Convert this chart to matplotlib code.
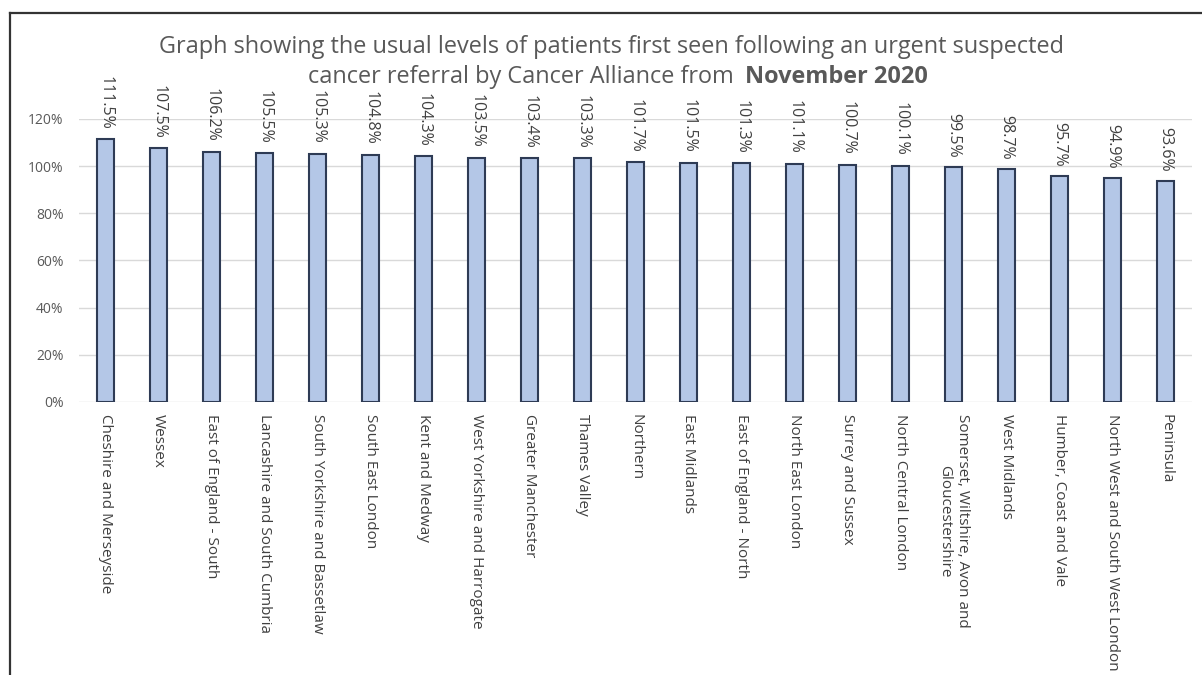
import matplotlib.pyplot as plt
from matplotlib.lines import Line2D
from matplotlib.ticker import FuncFormatter

# usual referral levels by Cancer Alliance, November 2020
alliances = [
    "Cheshire and Merseyside", "Wessex", "East of England - South",
    "Lancashire and South Cumbria", "South Yorkshire and Bassetlaw",
    "South East London", "Kent and Medway", "West Yorkshire and Harrogate",
    "Greater Manchester", "Thames Valley", "Northern", "East Midlands",
    "East of England - North", "North East London", "Surrey and Sussex",
    "North Central London", "Somerset, Wiltshire, Avon and\nGloucestershire",
    "West Midlands", "Humber, Coast and Vale",
    "North West and South West London", "Peninsula",
]
levels = [111.5, 107.5, 106.2, 105.5, 105.3, 104.8, 104.3, 103.5, 103.4,
          103.3, 101.7, 101.5, 101.3, 101.1, 100.7, 100.1, 99.5, 98.7,
          95.7, 94.9, 93.6]
y_ticks = [0, 20, 40, 60, 80, 100, 120]

plt.rcParams['font.family'] = ['Open Sans', 'DejaVu Sans']
grey = '#595959'

fig = plt.figure(figsize=(12.02, 6.75), dpi=100)
ax = fig.add_axes([79 / 1202, 1 - 402 / 675, 1113 / 1202, 283 / 675])

x = range(len(alliances))
ax.bar(x, levels, width=0.31, color='#B4C7E7', edgecolor='#2E3B55',
       linewidth=1.5, zorder=3)

for xi, v in zip(x, levels):
    ax.annotate(f"{v:.1f}%", (xi, v), xytext=(0, 7), textcoords='offset points',
                rotation=270, ha='center', va='bottom', fontsize=11.5,
                color='#404040')

ax.set_xlim(-0.5, len(alliances) - 0.5)
ax.set_ylim(0, 120)
ax.set_yticks(y_ticks)
ax.yaxis.set_major_formatter(FuncFormatter(lambda v, p: f"{v:.0f}%"))
ax.grid(axis='y', color='#D9D9D9', linewidth=1, zorder=0)
for s in ax.spines.values():
    s.set_visible(False)
ax.tick_params(axis='both', length=0)
ax.tick_params(axis='y', labelsize=10, labelcolor=grey, pad=11)
ax.set_xticks(list(x))
ax.set_xticklabels(alliances, rotation=270, fontsize=11, color='#404040',
                   ha='center', va='top', multialignment='center')
ax.tick_params(axis='x', pad=9)

# two-line title, the date in bold
title_kw = dict(fontsize=16.9, color=grey, va='center')
fig.text(0.5085, 1 - 47 / 675, "Graph showing the usual levels of patients first "
         "seen following an urgent suspected", ha='center', **title_kw)
line2 = fig.text(308 / 1202, 1 - 77 / 675, "cancer referral by Cancer Alliance from",
                 ha='left', **title_kw)
fig.add_artist(plt.Annotation("November 2020", xy=(1, 0.5), xycoords=line2,
                              xytext=(8, 0), textcoords='offset points',
                              ha='left', fontweight='bold', **title_kw))

# outer frame (top and left edges)
fig.add_artist(Line2D([9.5 / 1202, 1], [1 - 12.5 / 675] * 2, color='#333333',
                      linewidth=1.6, transform=fig.transFigure))
fig.add_artist(Line2D([9.5 / 1202] * 2, [0, 1 - 12.5 / 675], color='#333333',
                      linewidth=1.6, transform=fig.transFigure))

fig.savefig('out.png', dpi=100, facecolor='white')
